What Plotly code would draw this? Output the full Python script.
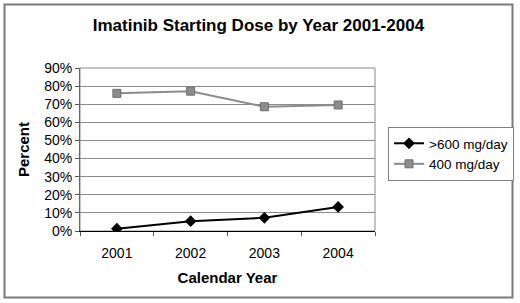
import plotly.graph_objects as go

years = ["2001", "2002", "2003", "2004"]
high_dose = [1.3, 5.4, 7.3, 13.3]      # >600 mg/day, percent
std_dose = [76.0, 77.2, 68.6, 69.6]     # 400 mg/day, percent
y_ticks = [0, 10, 20, 30, 40, 50, 60, 70, 80, 90]
y_tick_labels = [f"{v}%" for v in y_ticks]

L, R, T, B = 80, 145, 68, 72
W, H = 520, 303
pw, ph = W - L - R, H - T - B

def px(x):
    return (x - L) / pw

def py(y):
    return (H - B - y) / ph

fig = go.Figure()
fig.add_trace(go.Scatter(
    x=years, y=high_dose, name=">600 mg/day", mode="lines+markers",
    line=dict(color="#000000", width=2),
    marker=dict(symbol="diamond", size=9, color="#000000"),
))
fig.add_trace(go.Scatter(
    x=years, y=std_dose, name="400 mg/day", mode="lines+markers",
    line=dict(color="#8c8c8c", width=2),
    marker=dict(symbol="square", size=8, color="#8c8c8c",
                line=dict(color="#6e6e6e", width=1)),
))

fig.update_layout(
    width=W, height=H,
    margin=dict(l=L, r=R, t=T, b=B),
    paper_bgcolor="white", plot_bgcolor="white",
    font=dict(family="Arial, Liberation Sans, sans-serif", size=14, color="#000000"),
    title=dict(text="<b>Imatinib Starting Dose by Year 2001-2004</b>",
               x=0.497, xanchor="center", y=1 - 25 / H, yanchor="middle",
               font=dict(size=17)),
    showlegend=True,
    legend=dict(xref="container", yref="container",
                x=388 / W, y=1 - 127 / H, xanchor="left", yanchor="top",
                bordercolor="#7f7f7f", borderwidth=1, bgcolor="white",
                font=dict(size=13.5), itemwidth=30, tracegroupgap=0),
    xaxis=dict(
        type="category", title=dict(text="<b>Calendar Year</b>", font=dict(size=15), standoff=12),
        showgrid=False, showline=True, linecolor="#000000", linewidth=1, mirror=False,
        ticks="outside", tickson="boundaries", ticklen=4, tickcolor="#555555",
        tickfont=dict(size=14), range=[-0.5, 3.5], ticklabelstandoff=9,
    ),
    yaxis=dict(
        title=dict(text="<b>Percent</b>", font=dict(size=15), standoff=10),
        range=[0, 90], tickvals=y_ticks, ticktext=y_tick_labels,
        showgrid=True, gridcolor="#8a8a8a", gridwidth=1,
        showline=True, linecolor="#666666", linewidth=1,
        ticks="outside", ticklen=4, tickcolor="#555555",
        tickfont=dict(size=14), zeroline=False,
    ),
    shapes=[
        dict(type="rect", xref="paper", yref="paper", x0=0, y0=0, x1=1, y1=1,
             line=dict(color="#8a8a8a", width=1), layer="below"),
        dict(type="rect", xref="paper", yref="paper",
             x0=px(4.5), x1=px(512.5), y0=py(297.5), y1=py(4.5),
             line=dict(color="#7a7a7a", width=2)),
    ],
)

fig.write_html("out.html", config={"displayModeBar": False},
               post_script="document.body.style.margin='0';document.body.style.overflow='hidden';")
